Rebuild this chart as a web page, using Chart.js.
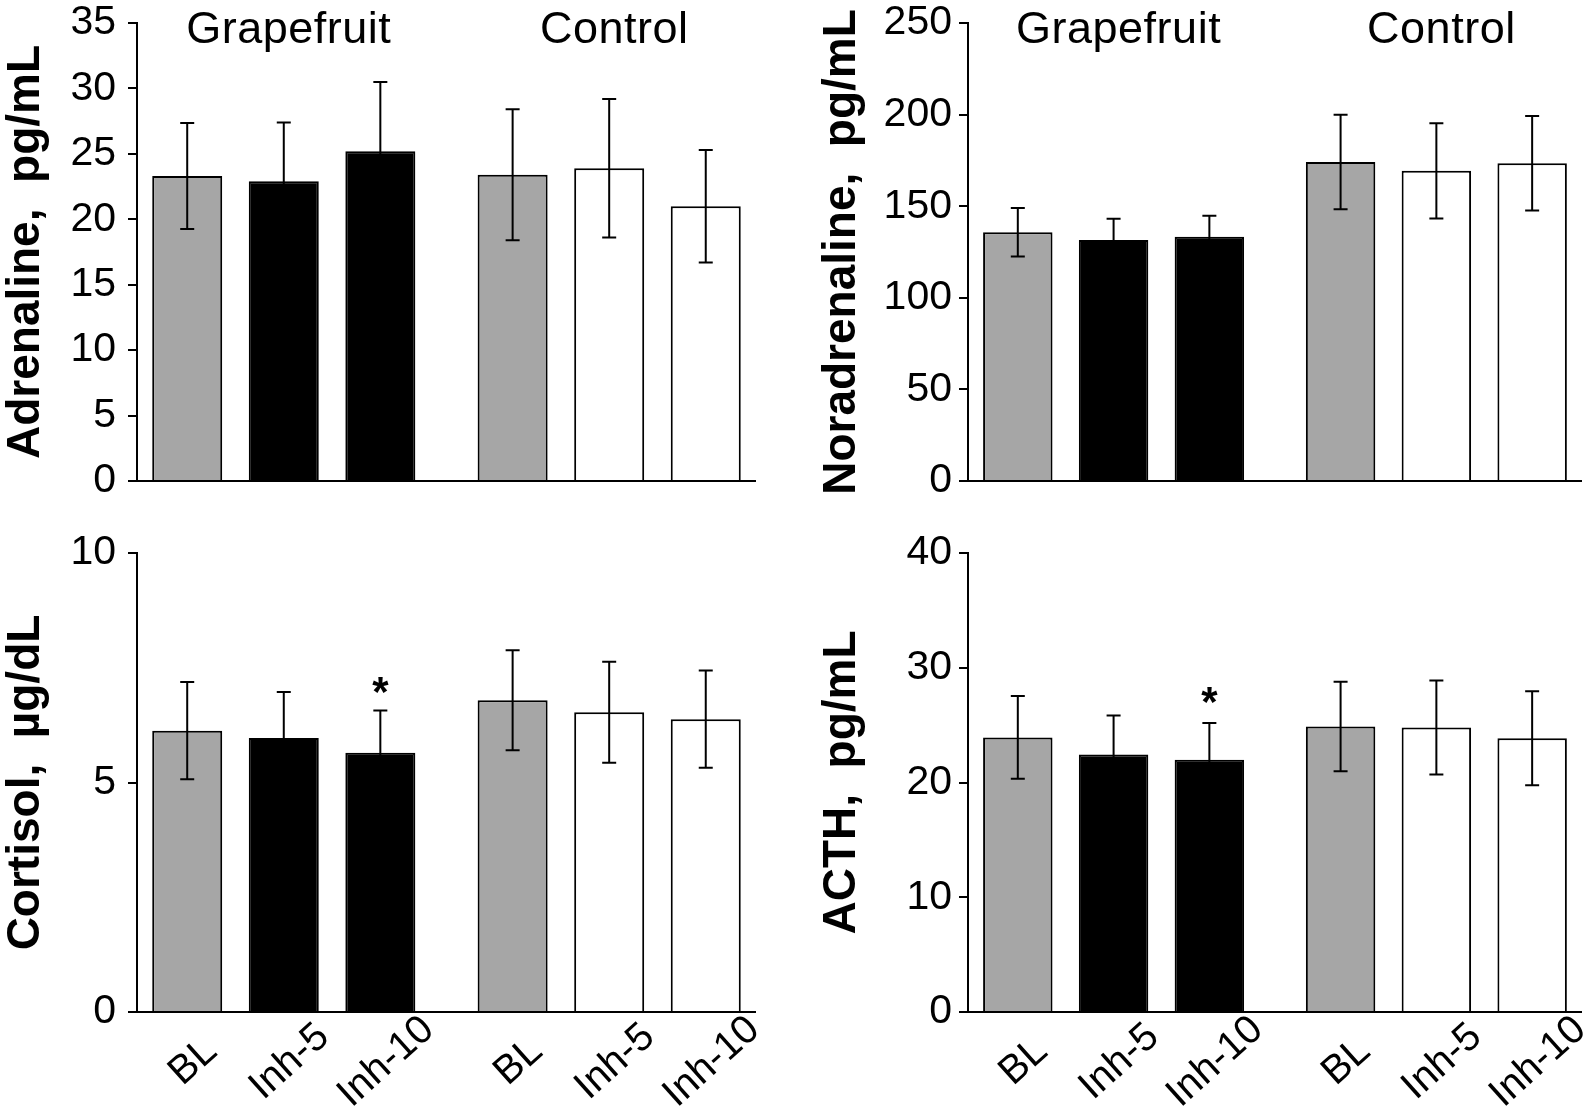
<!DOCTYPE html>
<html>
<head>
<meta charset="utf-8">
<title>Grapefruit inhalation - hormones</title>
<script src="https://cdn.jsdelivr.net/npm/chart.js@4.4.0/dist/chart.umd.min.js"></script>
<style>
  html, body { margin: 0; padding: 0; background: #fff; }
  #wrap { position: relative; width: 1594px; height: 1112px; overflow: hidden; background: #fff; }
  canvas { position: absolute; }
</style>
</head>
<body>
<div id="wrap">
  <canvas id="adrenaline" width="797" height="547" style="left:0px;top:-17px"></canvas>
  <canvas id="noradrenaline" width="778" height="547" style="left:816px;top:-17px"></canvas>
  <canvas id="cortisol" width="797" height="599" style="left:0px;top:513px"></canvas>
  <canvas id="acth" width="778" height="599" style="left:816px;top:513px"></canvas>
</div>
<script>
// ---------------- data ----------------
const xLabels = ['BL', 'Inh-5', 'Inh-10', 'BL', 'Inh-5', 'Inh-10'];
const slotX = [0, 1, 2, 3.37, 4.37, 5.37];      // bar slots, gap between the two groups
const groupNames = ['Grapefruit', 'Control'];
const groupMiddleSlot = [1, 4];

const adrenalineMean = [23.3, 22.9, 25.2, 23.4, 23.9, 21.0];
const adrenalineSE   = [4.05, 4.5, 5.3, 5.0, 5.3, 4.3];
const adrenalineTicks = [0, 5, 10, 15, 20, 25, 30, 35];

const noradrenalineMean = [135.8, 131.6, 133.3, 174.1, 169.3, 173.5];
const noradrenalineSE   = [13.2, 11.5, 11.5, 25.8, 26.0, 25.8];
const noradrenalineTicks = [0, 50, 100, 150, 200, 250];

const cortisolMean = [6.13, 5.97, 5.65, 6.79, 6.53, 6.38];
const cortisolSE   = [1.06, 1.0, 0.92, 1.09, 1.1, 1.06];
const cortisolTicks = [0, 5, 10];
const cortisolStar = [null, null, 7.18, null, null, null];

const acthMean = [23.93, 22.44, 21.98, 24.88, 24.79, 23.86];
const acthSE   = [3.6, 3.4, 3.2, 3.9, 4.1, 4.1];
const acthTicks = [0, 10, 20, 30, 40];
const acthStar = [null, null, 27.9, null, null, null];

// ---------------- style ----------------
const barFill = ['#a6a6a6', '#000000', '#000000', '#a6a6a6', '#ffffff', '#ffffff'];
const FONT = '"Liberation Sans", Arial, Helvetica, sans-serif';

// error bars (mean +/- SE)
const errorBars = {
    id: 'errorBars',
    afterDatasetsDraw(chart) {
        const ctx = chart.ctx;
        const y = chart.scales.y;
        const ds = chart.data.datasets[0];
        const meta = chart.getDatasetMeta(0);
        ctx.save();
        ctx.strokeStyle = '#000';
        ctx.lineWidth = 2;
        meta.data.forEach((bar, i) => {
            const m = ds.data[i].y;
            const e = ds.se[i];
            const yTop = y.getPixelForValue(m + e);
            const yBot = y.getPixelForValue(m - e);
            ctx.beginPath();
            ctx.moveTo(bar.x, yTop); ctx.lineTo(bar.x, yBot);
            ctx.moveTo(bar.x - 7, yTop); ctx.lineTo(bar.x + 7, yTop);
            ctx.moveTo(bar.x - 7, yBot); ctx.lineTo(bar.x + 7, yBot);
            ctx.stroke();
        });
        ctx.restore();
    }
};

// group names over the top panels
const groupTitles = {
    id: 'groupTitles',
    afterDraw(chart) {
        const { ctx, scales: { x, y } } = chart;
        ctx.save();
        ctx.font = '45px ' + FONT;
        ctx.letterSpacing = '0.5px';
        ctx.fillStyle = '#000';
        ctx.textAlign = 'center';
        ctx.textBaseline = 'alphabetic';
        groupNames.forEach((g, i) => {
            ctx.fillText(g, x.getPixelForValue(slotX[groupMiddleSlot[i]]) + 5, y.top + 20);
        });
        ctx.restore();
    }
};

// slanted category labels under the bottom panels
const slantLabels = {
    id: 'slantLabels',
    afterDraw(chart) {
        const { ctx, scales: { x } } = chart;
        ctx.save();
        ctx.font = '40px ' + FONT;
        ctx.fillStyle = '#000';
        ctx.textAlign = 'center';
        ctx.textBaseline = 'middle';
        xLabels.forEach((lab, i) => {
            ctx.save();
            ctx.translate(x.getPixelForValue(slotX[i]) + 6, x.top + 50);
            ctx.rotate(-42 * Math.PI / 180);
            ctx.fillText(lab, 0, 0);
            ctx.restore();
        });
        ctx.restore();
    }
};

// significance asterisks
const stars = {
    id: 'stars',
    afterDraw(chart) {
        const { ctx, scales: { x, y } } = chart;
        const marks = chart.data.datasets[0].star || [];
        ctx.save();
        ctx.font = 'bold 42px ' + FONT;
        ctx.fillStyle = '#000';
        ctx.textAlign = 'center';
        ctx.textBaseline = 'alphabetic';
        marks.forEach((v, i) => {
            if (v == null) return;
            ctx.fillText('*', x.getPixelForValue(slotX[i]), y.getPixelForValue(v) + 24);
        });
        ctx.restore();
    }
};

function makeChart(id, cfg) {
    const ctx = document.getElementById(id).getContext('2d');
    return new Chart(ctx, {
        type: 'bar',
        data: {
            datasets: [{
                data: slotX.map((sx, i) => ({ x: sx, y: cfg.mean[i] })),
                se: cfg.se,
                star: cfg.star,
                backgroundColor: barFill,
                borderColor: '#000',
                borderWidth: 2,
                borderSkipped: 'bottom',
                barPercentage: 0.725,
                categoryPercentage: 1
            }]
        },
        options: {
            responsive: false,
            animation: false,
            devicePixelRatio: 1,
            layout: { padding: { top: 40, right: cfg.padRight, bottom: cfg.padBottom, left: 0 } },
            plugins: { legend: { display: false }, tooltip: { enabled: false } },
            scales: {
                x: {
                    type: 'linear',
                    offset: false,
                    min: -0.52,
                    max: 5.88,
                    afterBuildTicks: s => { s.ticks = slotX.map(v => ({ value: v })); },
                    grid: { display: false },
                    border: { display: true, color: '#000', width: 2 },
                    ticks: { display: false },
                    afterFit: s => { s.height = cfg.xHeight; }
                },
                y: {
                    min: 0,
                    max: cfg.ticks[cfg.ticks.length - 1],
                    afterBuildTicks: s => { s.ticks = cfg.ticks.map(v => ({ value: v })); },
                    grid: { drawOnChartArea: false, drawTicks: true, tickLength: 9, color: '#000', lineWidth: 2 },
                    border: { display: true, color: '#000', width: 2 },
                    ticks: { color: '#000', padding: cfg.tickPad, font: { family: FONT, size: 41, lineHeight: 1 } },
                    title: {
                        display: true,
                        text: cfg.title,
                        color: '#000',
                        padding: 0,
                        font: { family: FONT, size: 46, weight: 'bold', lineHeight: 1.15 }
                    },
                    afterFit: s => { s.width = cfg.axisX; }
                }
            }
        },
        plugins: cfg.plugins
    });
}

makeChart('adrenaline', {
    mean: adrenalineMean, se: adrenalineSE, ticks: adrenalineTicks,
    title: 'Adrenaline,  pg/mL', axisX: 137, padRight: 42, padBottom: 49, xHeight: 0, tickPad: 12,
    plugins: [errorBars, groupTitles]
});

makeChart('noradrenaline', {
    mean: noradrenalineMean, se: noradrenalineSE, ticks: noradrenalineTicks,
    title: 'Noradrenaline,  pg/mL', axisX: 152, padRight: 13, padBottom: 49, xHeight: 0, tickPad: 7,
    plugins: [errorBars, groupTitles]
});

makeChart('cortisol', {
    mean: cortisolMean, se: cortisolSE, star: cortisolStar, ticks: cortisolTicks,
    title: 'Cortisol,  µg/dL', axisX: 137, padRight: 42, padBottom: 0, xHeight: 100, tickPad: 12,
    plugins: [errorBars, slantLabels, stars]
});

makeChart('acth', {
    mean: acthMean, se: acthSE, star: acthStar, ticks: acthTicks,
    title: 'ACTH,  pg/mL', axisX: 152, padRight: 13, padBottom: 0, xHeight: 100, tickPad: 7,
    plugins: [errorBars, slantLabels, stars]
});
</script>
</body>
</html>
